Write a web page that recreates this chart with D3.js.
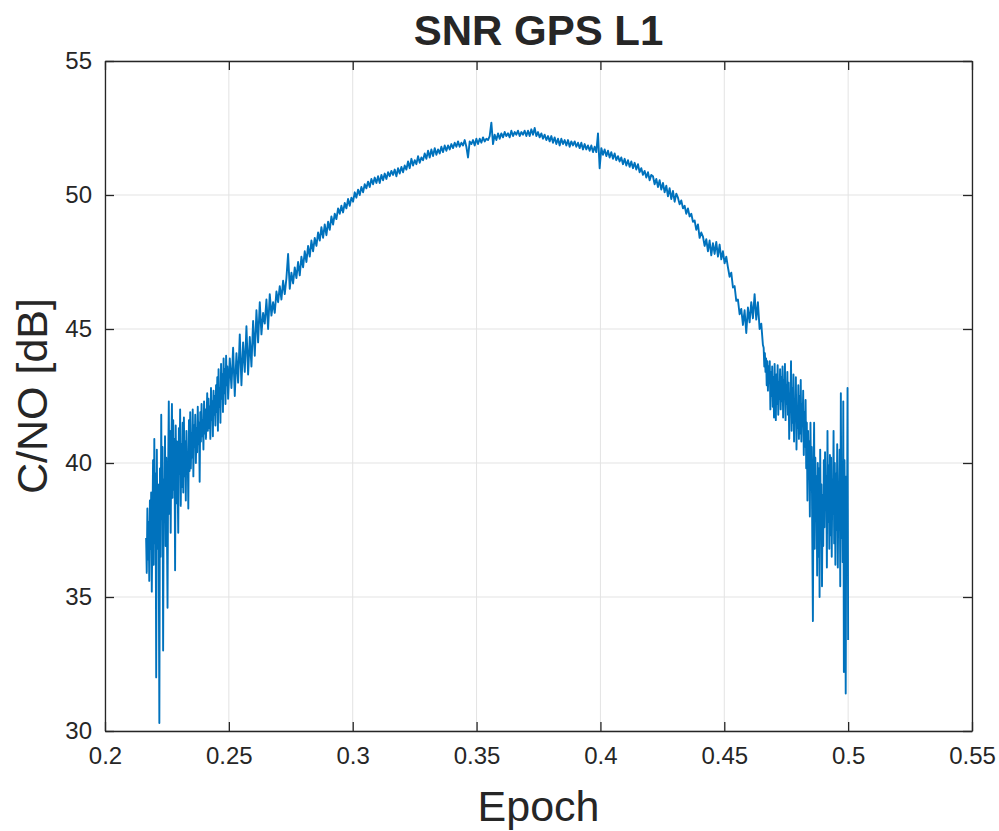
<!DOCTYPE html>
<html>
<head>
<meta charset="utf-8">
<script src="https://cdn.jsdelivr.net/npm/d3@7"></script>
<style>
  html, body { margin: 0; padding: 0; background: #ffffff; }
  svg { display: block; }
  text { font-family: "Liberation Sans", Arial, Helvetica, sans-serif; fill: #262626; }
</style>
</head>
<body>
<svg id="chart" width="999" height="831"></svg>
<script>
// ---------- data ----------
const titleText = "SNR GPS L1";
const xLabel = "Epoch";
const yLabel = "C/NO [dB]";
const xTicks = [0.2, 0.25, 0.3, 0.35, 0.4, 0.45, 0.5, 0.55];
const yTicks = [30, 35, 40, 45, 50, 55];
const xDomain = [0.2, 0.55];
const yDomain = [30, 55];

// Segment epochs (samples evenly spaced within each segment)
const riseEpochs = [0.2166, 0.2494];
const midEpochs = [0.2497, 0.4656];
const fallEpochs = [0.4659, 0.5];

// C/N0 readings, rising noisy part (low elevation)
const snrRise = [
  37.2, 35.9, 38.3, 36.4, 37.8, 35.6, 38.6, 36.8, 38.9, 35.2,
  37.5, 40.1, 36.2, 40.9, 37.0, 39.6, 32.0, 40.5, 36.8, 39.2,
  37.1, 30.3, 39.8, 36.5, 41.8, 37.9, 40.6, 33.0, 39.4, 38.2,
  41.0, 36.9, 40.2, 37.6, 34.6, 39.8, 42.3, 38.1, 41.2, 37.4,
  40.5, 42.2, 38.7, 41.6, 39.0, 40.9, 36.0, 41.4, 38.5, 40.8,
  39.2, 37.4, 41.3, 39.6, 42.0, 38.4, 40.7, 39.1, 41.5, 38.9,
  41.7, 39.5, 40.8, 38.6, 41.2, 39.9, 40.4, 38.3, 41.6, 39.7,
  41.9, 39.8, 41.1, 40.2, 42.0, 39.5, 41.4, 40.6, 41.8, 40.0,
  41.3, 40.4, 42.1, 40.7, 41.5, 39.3, 41.9, 40.8, 42.2, 41.0,
  41.6, 40.5, 42.3, 41.1, 42.0, 40.9, 41.7, 42.6, 41.2, 42.4,
  41.3, 42.1, 40.9, 42.8, 41.6, 42.3, 41.0, 42.7, 41.8, 42.5,
  41.4, 42.9, 41.9, 43.2, 41.2, 43.5, 42.1, 42.8, 41.5, 43.7,
  42.4, 43.3, 41.9, 43.9, 42.6, 43.5, 42.2, 44.0, 42.9, 43.6
];

// C/N0 readings, high elevation part
const snrMid = [
  42.4, 43.9, 42.8, 44.3, 42.5, 44.1, 43.0, 44.8, 42.9, 44.5, 43.4, 45.1, 43.3, 44.7, 43.6,
  45.3, 44.0, 45.7, 44.5, 46.0, 44.8, 45.6, 45.2, 46.1, 45.0, 46.3, 45.5, 46.0, 45.6, 46.4,
  46.0, 46.6, 46.1, 46.8, 46.3, 46.9, 47.8, 46.5, 47.1, 46.7, 47.3, 46.9, 47.5, 47.0, 47.7,
  47.3, 47.9, 47.5, 48.1, 47.7, 48.3, 47.9, 48.4, 48.1, 48.6, 48.3, 48.8, 48.4, 48.9, 48.5,
  49.0, 48.7, 49.2, 48.9, 49.3, 49.1, 49.5, 49.3, 49.6, 49.35, 49.7, 49.5, 49.85, 49.6, 49.9,
  49.75, 50.1, 49.9, 50.2, 50.0, 50.3, 50.1, 50.4, 50.25, 50.5, 50.3, 50.6, 50.4, 50.65, 50.45,
  50.7, 50.45, 50.75, 50.55, 50.8, 50.6, 50.85, 50.7, 50.9, 50.75, 50.95, 50.7, 51.0, 50.8, 51.05,
  50.85, 51.1, 50.95, 51.25, 51.0, 51.35, 51.1, 51.3, 51.15, 51.45, 51.2, 51.4, 51.3, 51.55, 51.35,
  51.65, 51.4, 51.7, 51.45, 51.75, 51.5, 51.7, 51.55, 51.8, 51.6, 51.85, 51.65, 51.85, 51.7, 51.9,
  51.75, 51.95, 51.8, 52.0, 51.8, 51.95, 51.85, 52.05, 51.8, 51.4, 52.0, 51.9, 52.05, 51.85, 52.1,
  51.9, 52.1, 51.95, 52.15, 52.0, 52.1, 52.05, 52.2, 52.7, 51.9, 52.25, 52.05, 52.3, 52.1, 52.3,
  52.15, 52.35, 52.2, 52.3, 52.15, 52.4, 52.2, 52.35, 52.25, 52.4, 52.2, 52.35, 52.25, 52.4, 52.2,
  52.4, 52.2, 52.45, 52.25, 52.5, 52.2, 52.35, 52.15, 52.3, 52.1, 52.25, 52.05, 52.2, 52.0, 52.2,
  51.95, 52.15, 51.9, 52.1, 51.85, 52.1, 51.9, 52.05, 51.85, 52.05, 51.8, 52.0, 51.85, 52.0, 51.8,
  51.95, 51.75, 51.95, 51.7, 51.9, 51.7, 51.85, 51.65, 51.85, 51.6, 51.8, 51.6, 52.3, 51.0, 51.75,
  51.5, 51.7, 51.45, 51.65, 51.4, 51.6, 51.35, 51.55, 51.3, 51.45, 51.25, 51.4, 51.15, 51.35, 51.1,
  51.3, 51.05, 51.25, 51.0, 51.2, 50.95, 51.15, 50.85, 51.0, 50.75, 50.9, 50.65, 50.85, 50.55, 50.75,
  50.7, 50.4, 50.6, 50.3, 50.55, 50.2, 50.45, 50.1, 50.35, 49.95, 50.25, 49.85, 50.15, 49.75, 50.05,
  49.9, 49.65, 49.8, 49.5, 49.6, 49.3, 49.5, 49.2, 49.3, 49.0, 49.05, 48.7, 48.9, 48.4, 48.6,
  48.45, 48.1, 48.35, 47.9, 48.3, 47.75, 48.2, 47.8, 48.25, 47.7, 48.15, 47.6, 47.9, 47.45, 47.7,
  47.3, 46.95, 47.1, 46.55, 46.6, 46.05, 46.1, 45.55, 45.75, 45.15, 45.7, 44.85, 45.8, 45.25, 46.0,
  45.4, 46.3, 45.35, 46.0, 45.0, 45.2, 44.4
];

// C/N0 readings, falling noisy part (setting satellite)
const snrFall = [
  44.3, 43.6, 44.1, 43.4, 43.9, 42.9, 43.8, 42.7, 43.6, 43.0,
  43.8, 42.0, 43.4, 42.5, 43.6, 42.1, 43.2, 41.7, 43.7, 42.4,
  41.6, 43.3, 42.2, 43.65, 41.8, 43.0, 42.4, 43.5, 42.0, 43.2,
  42.3, 43.6, 41.7, 43.1, 42.5, 43.7, 41.6, 42.9, 42.2, 43.4,
  41.8, 43.0, 40.9, 42.6, 41.9, 43.8, 41.2, 42.8, 41.5, 43.3,
  40.8, 42.4, 41.6, 43.2, 40.5, 42.1, 41.3, 42.9, 40.9, 42.5,
  41.1, 43.1, 40.8, 42.2, 41.4, 42.7, 40.3, 41.9, 40.6, 42.35,
  39.8, 41.5, 38.6, 41.2, 39.4, 40.8, 38.0, 41.5, 39.0, 40.6,
  37.2, 34.1, 39.6, 41.5, 36.8, 40.2, 37.9, 39.5, 35.8, 40.0,
  36.5, 39.8, 35.0, 40.5, 37.4, 39.2, 35.4, 38.8, 36.9, 40.1,
  37.6, 40.4, 38.3, 39.5, 36.1, 41.2, 37.8, 39.9, 36.8, 40.3,
  37.3, 40.2, 36.5, 39.4, 38.1, 41.2, 37.0, 40.0, 36.2, 39.6,
  37.5, 40.7, 36.1, 39.2, 38.4, 40.5, 35.4, 42.6, 37.2, 39.8,
  36.3, 42.3, 32.2, 40.1, 37.0, 31.4, 39.5, 36.6, 42.8, 33.4
];

// ---------- build table ----------
function segment(range, vals) {
  const n = vals.length;
  return vals.map((v, i) => ({ x: range[0] + (range[1] - range[0]) * i / (n - 1), y: v }));
}
const series = [].concat(
  segment(riseEpochs, snrRise),
  segment(midEpochs, snrMid),
  segment(fallEpochs, snrFall)
);

// ---------- layout ----------
const svg = d3.select("#chart");
const pLeft = 105, pRight = 972, pTop = 61, pBottom = 731;
const x = d3.scaleLinear().domain(xDomain).range([pLeft, pRight]);
const y = d3.scaleLinear().domain(yDomain).range([pBottom, pTop]);
const axisColor = "#262626";
const gridColor = "#e3e3e3";
const tickLen = 9;

// grid
const grid = svg.append("g");
grid.selectAll("line.gx").data(xTicks).join("line")
  .attr("x1", d => x(d)).attr("x2", d => x(d))
  .attr("y1", pTop).attr("y2", pBottom)
  .attr("stroke", gridColor).attr("stroke-width", 1);
grid.selectAll("line.gy").data(yTicks).join("line")
  .attr("y1", d => y(d)).attr("y2", d => y(d))
  .attr("x1", pLeft).attr("x2", pRight)
  .attr("stroke", gridColor).attr("stroke-width", 1);

// data line
const line = d3.line().x(d => x(d.x)).y(d => y(d.y));
svg.append("path").datum(series)
  .attr("d", line)
  .attr("fill", "none")
  .attr("stroke", "#0072BD")
  .attr("stroke-width", 1.9)
  .attr("stroke-linejoin", "round");

// axes (MATLAB-style: inward ticks, box)
const fmt = d => String(d);
const xAxisB = d3.axisBottom(x).tickValues(xTicks).tickFormat(fmt).tickSizeInner(-tickLen).tickSizeOuter(0).tickPadding(16);
const xAxisT = d3.axisTop(x).tickValues(xTicks).tickFormat("").tickSizeInner(-tickLen).tickSizeOuter(0);
const yAxisL = d3.axisLeft(y).tickValues(yTicks).tickFormat(fmt).tickSizeInner(-tickLen).tickSizeOuter(0).tickPadding(13);
const yAxisR = d3.axisRight(y).tickValues(yTicks).tickFormat("").tickSizeInner(-tickLen).tickSizeOuter(0);

function style(g) {
  g.select(".domain").attr("stroke", axisColor).attr("stroke-width", 1.3);
  g.selectAll(".tick line").attr("stroke", axisColor).attr("stroke-width", 1.3);
  g.selectAll(".tick text").attr("fill", axisColor).style("font-size", "24px")
    .style("font-family", "'Liberation Sans', Arial, sans-serif");
}
svg.append("g").attr("transform", `translate(0,${pBottom})`).call(xAxisB).call(style);
svg.append("g").attr("transform", `translate(0,${pTop})`).call(xAxisT).call(style);
svg.append("g").attr("transform", `translate(${pLeft},0)`).call(yAxisL).call(style);
svg.append("g").attr("transform", `translate(${pRight},0)`).call(yAxisR).call(style);

// title & labels
svg.append("text").attr("x", (pLeft + pRight) / 2).attr("y", 45)
  .attr("text-anchor", "middle").style("font-size", "42px").style("font-weight", "bold")
  .attr("fill", "#000").text(titleText);
svg.append("text").attr("x", (pLeft + pRight) / 2).attr("y", 821)
  .attr("text-anchor", "middle").style("font-size", "43px").text(xLabel);
svg.append("text").attr("transform", `translate(47,${(pTop + pBottom) / 2}) rotate(-90)`)
  .attr("text-anchor", "middle").style("font-size", "43px").text(yLabel);
</script>
</body>
</html>
